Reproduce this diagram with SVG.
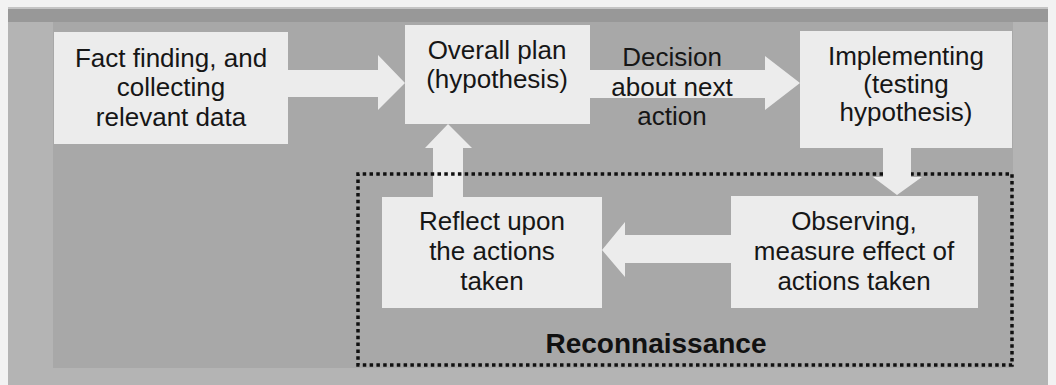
<svg xmlns="http://www.w3.org/2000/svg" width="1056" height="385" viewBox="0 0 1056 385">
  <style>
    .box { fill: #ececec; }
    .arrow { fill: #ececec; }
    .lbl { font-family: "Liberation Sans", Arial, sans-serif; font-size: 26px; fill: #161616; text-anchor: middle; }
    .title { font-family: "Liberation Sans", Arial, sans-serif; font-size: 28px; font-weight: bold; fill: #111; text-anchor: middle; }
    .dots { fill: none; stroke: #111; stroke-width: 3.5; stroke-dasharray: 3.5 3.3; }
  </style>

  <!-- page and frame -->
  <rect x="0" y="0" width="1056" height="385" fill="#f2f2f2"/>
  <rect x="8" y="7" width="1040" height="378" fill="#b4b4b4"/>
  <rect x="8" y="7" width="1040" height="15" fill="#989898"/>
  <rect x="8" y="7" width="1040" height="2" fill="#c4c4c4"/>
  <rect x="53" y="22" width="960" height="346" fill="#a8a8a8"/>

  <!-- connectors -->
  <g id="connectors">
    <polygon class="arrow" points="288,70 378,70 378,55 405,83 378,110 378,97 288,97"/>
    <polygon class="arrow" points="590,70 765,70 765,56 800,83 765,110 765,98 590,98"/>
    <polygon class="arrow" points="433,197 433,148 425,148 448,124 472,148 463,148 463,197"/>
    <polygon class="arrow" points="731,235 625,235 625,222 602,250 625,277 625,263 731,263"/>
    <text class="lbl" x="672" y="66">Decision</text>
    <text class="lbl" x="672" y="96">about next</text>
    <text class="lbl" x="672" y="125">action</text>
  </g>

  <!-- dotted reconnaissance region -->
  <g id="reconnaissance">
    <path class="dots" d="M883,174 H358 V365 H1012 V174 H911"/>
    <text class="title" x="656" y="353">Reconnaissance</text>
  </g>

  <!-- downward arrow into the observing step, drawn over the dotted edge -->
  <g id="connector-down">
    <polygon class="arrow" points="883,148 911,148 911,177 922,177 897,195 873,177 883,177"/>
  </g>

  <!-- nodes -->
  <g id="fact-finding">
    <rect class="box" x="54" y="32" width="234" height="112"/>
    <text class="lbl" x="171" y="67">Fact finding, and</text>
    <text class="lbl" x="171" y="96">collecting</text>
    <text class="lbl" x="171" y="126">relevant data</text>
  </g>

  <g id="overall-plan">
    <rect class="box" x="405" y="25" width="185" height="99"/>
    <text class="lbl" x="497" y="59">Overall plan</text>
    <text class="lbl" x="497" y="88">(hypothesis)</text>
  </g>

  <g id="implementing">
    <rect class="box" x="800" y="31" width="212" height="117"/>
    <text class="lbl" x="906" y="65">Implementing</text>
    <text class="lbl" x="906" y="93">(testing</text>
    <text class="lbl" x="906" y="121">hypothesis)</text>
  </g>

  <g id="observing">
    <rect class="box" x="731" y="196" width="247" height="112"/>
    <text class="lbl" x="854" y="230">Observing,</text>
    <text class="lbl" x="854" y="260">measure effect of</text>
    <text class="lbl" x="854" y="290">actions taken</text>
  </g>

  <g id="reflect">
    <rect class="box" x="382" y="197" width="220" height="111"/>
    <text class="lbl" x="492" y="230">Reflect upon</text>
    <text class="lbl" x="492" y="260">the actions</text>
    <text class="lbl" x="492" y="290">taken</text>
  </g>
</svg>
